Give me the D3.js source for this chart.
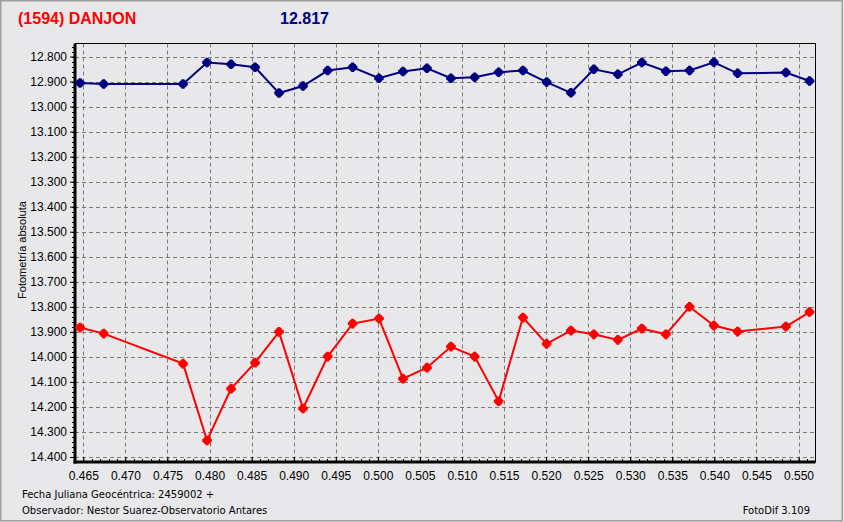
<!DOCTYPE html>
<html><head><meta charset="utf-8">
<script src="https://cdn.jsdelivr.net/npm/d3@7"></script>
<style>
html,body{margin:0;padding:0;background:#e8e8ea;}
svg{display:block;}
</style></head>
<body>
<script>
const title = "(1594) DANJON";
const refValue = "12.817";
const yLabel = "Fotometría absoluta";
const footer1 = "Fecha Juliana Geocéntrica: 2459002 +";
const footer2 = "Observador: Nestor Suarez-Observatorio Antares";
const version = "FotoDif 3.109";

const jd = [0.46461,0.46742,0.47685,0.47970,0.48256,0.48541,0.48826,0.49111,0.49404,0.49701,
            0.50014,0.50299,0.50584,0.50869,0.51151,0.51436,0.51725,0.52006,0.52295,0.52568,
            0.52853,0.53138,0.53424,0.53705,0.53994,0.54276,0.54850,0.55131];
const blue = [12.906,12.910,12.910,12.824,12.831,12.843,12.946,12.918,12.856,12.843,
              12.887,12.860,12.847,12.887,12.883,12.863,12.856,12.902,12.945,12.851,
              12.871,12.824,12.859,12.856,12.823,12.867,12.864,12.898];
const red = [13.883,13.907,14.027,14.334,14.127,14.023,13.900,14.206,13.999,13.867,
             13.847,14.087,14.043,13.959,13.999,14.177,13.843,13.948,13.895,13.910,
             13.932,13.887,13.910,13.800,13.875,13.899,13.879,13.821];
const xTicks = [0.465,0.470,0.475,0.480,0.485,0.490,0.495,0.500,0.505,0.510,0.515,0.520,0.525,0.530,0.535,0.540,0.545,0.550];
const yTicks = [12.8,12.9,13.0,13.1,13.2,13.3,13.4,13.5,13.6,13.7,13.8,13.9,14.0,14.1,14.2,14.3,14.4];

const W = 844, H = 522;
const L = 75, R = 815.5, T = 43.5, B = 462;
const svg = d3.select("body").append("svg").attr("width", W).attr("height", H);

svg.append("rect").attr("x",0).attr("y",0).attr("width",W).attr("height",H).attr("fill","#e8e8ea");
// window frame
svg.append("rect").attr("x",0.75).attr("y",0.75).attr("width",W-2.5).attr("height",H-2)
  .attr("fill","none").attr("stroke","#a0a0a0").attr("stroke-width",1.5);

const x = d3.scaleLinear().domain([0.46401, 0.55202]).range([L, R]);
const y = d3.scaleLinear().domain([12.748, 14.42]).range([T, B]);

// grid
const g = svg.append("g");
g.selectAll(".gx").data(xTicks).join("line")
  .attr("x1", d => Math.round(x(d))+0.5).attr("x2", d => Math.round(x(d))+0.5)
  .attr("y1", T).attr("y2", B)
  .attr("stroke","#7a7a7a").attr("stroke-dasharray","4,3").attr("stroke-width",1);
g.selectAll(".gy").data(yTicks).join("line")
  .attr("y1", d => Math.round(y(d))+0.5).attr("y2", d => Math.round(y(d))+0.5)
  .attr("x1", L).attr("x2", R)
  .attr("stroke","#7a7a7a").attr("stroke-dasharray","4,3").attr("stroke-width",1);

// plot border top/right
svg.append("line").attr("x1",L).attr("x2",R).attr("y1",T).attr("y2",T).attr("stroke","#000");
svg.append("line").attr("x1",R).attr("x2",R).attr("y1",T).attr("y2",B).attr("stroke","#000");

// axes
const xAxis = d3.axisBottom(x).tickValues(xTicks).tickFormat(d3.format(".3f")).tickSize(-5).tickPadding(9);
const xa = svg.append("g").attr("transform",`translate(0,${B})`).call(xAxis);
const xMinor = d3.range(0.464, 0.5521, 0.001).filter(v => v >= 0.46401);
svg.append("g").selectAll("line").data(xMinor).join("line")
  .attr("x1", d => Math.round(x(d))+0.5).attr("x2", d => Math.round(x(d))+0.5)
  .attr("y1", B-3).attr("y2", B).attr("stroke","#000");

const yAxis = d3.axisLeft(y).tickValues(yTicks).tickFormat(d3.format(".3f")).tickSize(5).tickPadding(3);
const ya = svg.append("g").attr("transform",`translate(${L},0)`).call(yAxis);
const yMinor = d3.range(12.76, 14.42, 0.02);
svg.append("g").selectAll("line").data(yMinor).join("line")
  .attr("y1", d => Math.round(y(d))+0.5).attr("y2", d => Math.round(y(d))+0.5)
  .attr("x1", L-3).attr("x2", L).attr("stroke","#000");

[xa, ya].forEach(a => {
  a.select(".domain").remove();
  a.selectAll("text").attr("font-family","Liberation Sans, Arial, sans-serif").attr("font-size","12px").attr("fill","#000");
  a.selectAll("line").attr("stroke","#000");
});
ya.selectAll(".tick line").attr("x1",-5).attr("x2",0);
xa.selectAll(".tick line").attr("y1",0).attr("y2",-5);

// thick axis lines
svg.append("line").attr("x1",L).attr("x2",L).attr("y1",T).attr("y2",B+1.5).attr("stroke","#000").attr("stroke-width",3);
svg.append("line").attr("x1",L-1.5).attr("x2",R).attr("y1",B).attr("y2",B).attr("stroke","#000").attr("stroke-width",3);

// series
function drawSeries(vals, color) {
  const pts = jd.map((d,i) => [x(d), y(vals[i])]);
  svg.append("path").attr("d", d3.line()(pts)).attr("fill","none")
    .attr("stroke",color).attr("stroke-width",2);
  const mk = svg.append("g");
  mk.selectAll("circle").data(pts).join("circle")
    .attr("cx", d => d[0]).attr("cy", d => d[1]).attr("r", 4).attr("fill", color);
  mk.selectAll("path").data(pts).join("path")
    .attr("d", d => `M${d[0]-4.8},${d[1]-1.5}h9.6v3h-9.6z M${d[0]-1.5},${d[1]-4.8}h3v9.6h-3z`)
    .attr("fill", color);
}
drawSeries(blue, "#000080");
drawSeries(red, "#ff0000");

// titles
svg.append("text").attr("x",18).attr("y",24).text(title)
  .attr("font-family","Liberation Sans, Arial, sans-serif").attr("font-weight","bold")
  .attr("font-size","16px").attr("fill","#ff0000");
svg.append("text").attr("x",280).attr("y",24).text(refValue)
  .attr("font-family","Liberation Sans, Arial, sans-serif").attr("font-weight","bold")
  .attr("font-size","16px").attr("fill","#000080");

svg.append("text").attr("transform","translate(26,250) rotate(-90)").attr("text-anchor","middle")
  .text(yLabel).attr("font-family","Liberation Sans, Arial, sans-serif").attr("font-size","11px").attr("fill","#000");

const ff = "DejaVu Sans, Verdana, sans-serif";
svg.append("text").attr("x",22).attr("y",498).text(footer1).attr("font-family",ff).attr("font-size","10px").attr("fill","#000");
svg.append("text").attr("x",22).attr("y",514).text(footer2).attr("font-family",ff).attr("font-size","10px").attr("fill","#000");
svg.append("text").attr("x",810).attr("y",514).attr("text-anchor","end").text(version).attr("font-family",ff).attr("font-size","10px").attr("fill","#000");
</script>
</body></html>
